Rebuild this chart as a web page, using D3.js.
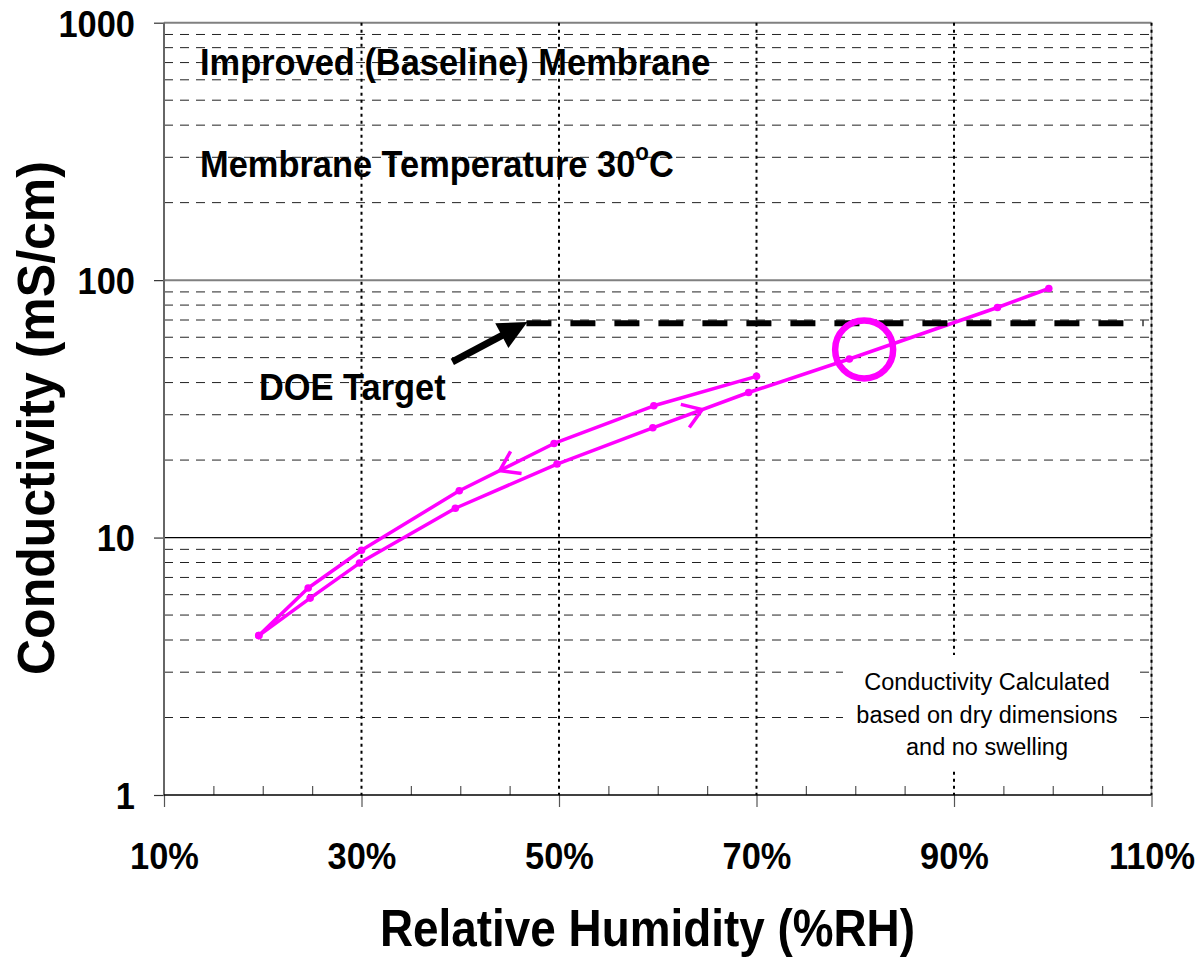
<!DOCTYPE html>
<html>
<head>
<meta charset="utf-8">
<script src="https://cdn.jsdelivr.net/npm/d3@7"></script>
<style>
  html, body { margin: 0; padding: 0; background: #fff; }
  svg { display: block; }
  text { font-family: "Liberation Sans", Arial, sans-serif; }
</style>
</head>
<body>
<svg id="chart" width="1198" height="959"></svg>
<script>
// ---------------- data ----------------
const xMajorTicks = [10, 30, 50, 70, 90, 110];
const xMinorTicks = [15, 20, 25, 35, 40, 45, 55, 60, 65, 75, 80, 85, 95, 100, 105];
const yMajorTicks = [1, 10, 100, 1000];
const yMinorTicks = [2,3,4,5,6,7,8,9, 20,30,40,50,60,70,80,90, 200,300,400,500,600,700,800,900];

// ascending humidity (lower branch)
const rhUp   = [19.6, 24.8, 29.8, 39.5, 49.8, 59.5, 69.2, 79.4, 94.4, 99.6];
const condUp = [4.16, 5.82, 7.96, 13.0, 19.3, 26.7, 36.6, 49.4, 78.3, 92.8];
// descending humidity (upper branch)
const rhDown   = [70.0, 59.6, 49.5, 39.9, 30.0, 24.6, 19.6];
const condDown = [42.3, 32.5, 23.2, 15.2, 8.93, 6.37, 4.16];

// direction arrows on the branches (RH where they sit)
const arrowUpRH = 64.5;
const arrowDownRH = 44.0;

const doeTarget = 68;           // mS/cm
const doeRange = [46.7, 109.2]; // %RH extent of target line
const doeArrowFrom = [39.2, 48.1];
const doeArrowTo = [46.8, 68.8];

const circleAt = [80.9, 53.8];

const title1 = "Improved (Baseline) Membrane";
const title2 = "Membrane Temperature 30";
const noteLines = ["Conductivity Calculated", "based on dry dimensions", "and no swelling"];

// ---------------- layout ----------------
const svg = d3.select("#chart");
const L = 164, R = 1151.5, T = 22.7, B = 795;
const x = d3.scaleLinear().domain([10, 110]).range([L, R]);
const y = d3.scaleLog().domain([1, 1000]).range([B, T]);
const MAG = "#ff00ff";
const SX = 0.93;

// minor horizontal gridlines (dashed)
svg.append("g").selectAll("line").data(yMinorTicks).join("line")
  .attr("x1", L).attr("x2", R)
  .attr("y1", d => y(d)).attr("y2", d => y(d))
  .attr("stroke", "#222").attr("stroke-width", 1)
  .attr("stroke-dasharray", "9,7");

// major horizontal lines
svg.append("line").attr("x1", L).attr("x2", R).attr("y1", y(10)).attr("y2", y(10))
  .attr("stroke", "#000").attr("stroke-width", 1.2);
svg.append("line").attr("x1", L).attr("x2", R).attr("y1", y(100)).attr("y2", y(100))
  .attr("stroke", "#808080").attr("stroke-width", 2);
svg.append("line").attr("x1", L).attr("x2", R).attr("y1", y(1000)).attr("y2", y(1000))
  .attr("stroke", "#808080").attr("stroke-width", 2);

// right border
svg.append("line").attr("x1", x(110)).attr("x2", x(110)).attr("y1", T).attr("y2", B)
  .attr("stroke", "#9a9a9a").attr("stroke-width", 1.5);

// vertical dotted gridlines
svg.append("g").selectAll("line").data(xMajorTicks.slice(1)).join("line")
  .attr("x1", d => x(d)).attr("x2", d => x(d))
  .attr("y1", T).attr("y2", B)
  .attr("stroke", "#000").attr("stroke-width", 2)
  .attr("stroke-dasharray", "3,4");

// white note box
svg.append("rect").attr("x", 843).attr("y", 655).attr("width", 290).attr("height", 115)
  .attr("fill", "#fff");

// axes
const xAxis = d3.axisBottom(x).tickValues(xMajorTicks).tickSize(12).tickFormat(d => d + "%");
const gx = svg.append("g").attr("transform", `translate(0,${B})`).call(xAxis);
gx.select(".domain").remove();
gx.selectAll(".tick line").attr("stroke", "#555").attr("stroke-width", 1.2);
gx.selectAll(".tick text")
  .attr("y", 74).attr("dy", 0)
  .attr("font-size", 37).attr("font-weight", "bold").attr("fill", "#000")
  .attr("transform", `scale(${SX},1)`);

const xMinor = d3.axisBottom(x).tickValues(xMinorTicks).tickSize(-9).tickFormat("");
const gxm = svg.append("g").attr("transform", `translate(0,${B})`).call(xMinor);
gxm.select(".domain").remove();
gxm.selectAll(".tick line").attr("stroke", "#555").attr("stroke-width", 1.2);

const yAxis = d3.axisLeft(y).tickValues(yMajorTicks).tickSize(10).tickFormat(d3.format("d"));
const gy = svg.append("g").attr("transform", `translate(${L},0)`).call(yAxis);
gy.select(".domain").remove();
gy.selectAll(".tick line").attr("stroke", "#333").attr("stroke-width", 1.2);
gy.selectAll(".tick text")
  .attr("x", -29 / SX).attr("dy", "0.36em")
  .attr("font-size", 37).attr("font-weight", "bold").attr("fill", "#000")
  .attr("transform", `scale(${SX},1)`);

// axis lines
svg.append("line").attr("x1", L).attr("x2", L).attr("y1", T).attr("y2", B + 1)
  .attr("stroke", "#666").attr("stroke-width", 2);
svg.append("line").attr("x1", L).attr("x2", R).attr("y1", B).attr("y2", B)
  .attr("stroke", "#000").attr("stroke-width", 1.6);

// axis titles
svg.append("text")
  .attr("x", 380).attr("y", 946)
  .attr("font-size", 52).attr("font-weight", "bold")
  .attr("textLength", 535).attr("lengthAdjust", "spacingAndGlyphs")
  .text("Relative Humidity (%RH)");

svg.append("text")
  .attr("transform", "translate(54,675) rotate(-90)")
  .attr("font-size", 51).attr("font-weight", "bold")
  .attr("textLength", 514).attr("lengthAdjust", "spacingAndGlyphs")
  .text("Conductivity (mS/cm)");

// annotation titles
function scaledText(px, py, size, weight, anchor) {
  return svg.append("g").attr("transform", `translate(${px},${py}) scale(${SX},1)`)
    .append("text").attr("font-size", size).attr("font-weight", weight)
    .attr("text-anchor", anchor || "start");
}
scaledText(200, 75, 37, "bold").text(title1);
const t2 = scaledText(200, 176.5, 37, "bold");
t2.append("tspan").text(title2);
t2.append("tspan").attr("font-size", 24).attr("dy", -17).text("o");
t2.append("tspan").attr("dy", 17).text("C");

scaledText(259, 400, 37, "bold").text("DOE Target");

// note
const noteY = [690, 723, 755];
svg.append("g").selectAll("text").data(noteLines).join("text")
  .attr("x", 987).attr("y", (d, i) => noteY[i])
  .attr("text-anchor", "middle").attr("font-size", 23.5).attr("fill", "#000")
  .text(d => d);

// ---------------- data series ----------------
const up = rhUp.map((r, i) => [r, condUp[i]]);
const down = rhDown.map((r, i) => [r, condDown[i]]);
const line = d3.line().x(d => x(d[0])).y(d => y(d[1]));

[up, down].forEach(series => {
  svg.append("path").datum(series).attr("d", line)
    .attr("fill", "none").attr("stroke", MAG).attr("stroke-width", 3.5)
    .attr("stroke-linejoin", "round");
  svg.append("g").selectAll("circle").data(series).join("circle")
    .attr("cx", d => x(d[0])).attr("cy", d => y(d[1])).attr("r", 3.8)
    .attr("fill", MAG);
});

// direction arrows (open chevrons)
function chevron(series, rh) {
  const pts = series.map(d => [x(d[0]), y(d[1])]);
  const px = x(rh);
  for (let i = 0; i < pts.length - 1; i++) {
    const a = pts[i], b = pts[i + 1];
    if ((px - a[0]) * (px - b[0]) <= 0) {
      const t = (px - a[0]) / (b[0] - a[0]);
      const tip = [a[0] + t * (b[0] - a[0]), a[1] + t * (b[1] - a[1])];
      const ang = Math.atan2(b[1] - a[1], b[0] - a[0]);
      const len = 22, spread = 34 * Math.PI / 180;
      const back = ang + Math.PI;
      const p1 = [tip[0] + len * Math.cos(back - spread), tip[1] + len * Math.sin(back - spread)];
      const p2 = [tip[0] + len * Math.cos(back + spread), tip[1] + len * Math.sin(back + spread)];
      svg.append("path")
        .attr("d", `M${p1[0]},${p1[1]}L${tip[0]},${tip[1]}L${p2[0]},${p2[1]}`)
        .attr("fill", "none").attr("stroke", MAG).attr("stroke-width", 3.5)
        .attr("stroke-linecap", "butt").attr("stroke-linejoin", "miter");
      return;
    }
  }
}
chevron(up, arrowUpRH);
chevron(down, arrowDownRH);

// DOE target line
svg.append("line")
  .attr("x1", x(doeRange[0])).attr("x2", x(doeRange[1]))
  .attr("y1", y(doeTarget)).attr("y2", y(doeTarget))
  .attr("stroke", "#000").attr("stroke-width", 6)
  .attr("stroke-dasharray", "25,19");

// DOE arrow
(function () {
  const a = [x(doeArrowFrom[0]), y(doeArrowFrom[1])];
  const b = [x(doeArrowTo[0]), y(doeArrowTo[1])];
  const ang = Math.atan2(b[1] - a[1], b[0] - a[0]);
  const headLen = 29, headHalf = 14;
  const base = [b[0] - headLen * Math.cos(ang), b[1] - headLen * Math.sin(ang)];
  svg.append("line").attr("x1", a[0]).attr("y1", a[1])
    .attr("x2", base[0] + 2 * Math.cos(ang)).attr("y2", base[1] + 2 * Math.sin(ang))
    .attr("stroke", "#000").attr("stroke-width", 7);
  const nx = -Math.sin(ang), ny = Math.cos(ang);
  svg.append("path")
    .attr("d", `M${b[0]},${b[1]}L${base[0] + headHalf * nx},${base[1] + headHalf * ny}L${base[0] - headHalf * nx},${base[1] - headHalf * ny}Z`)
    .attr("fill", "#000");
})();

// highlight circle
svg.append("circle")
  .attr("cx", x(circleAt[0])).attr("cy", y(circleAt[1])).attr("r", 29)
  .attr("fill", "none").attr("stroke", MAG).attr("stroke-width", 6.5);
</script>
</body>
</html>
